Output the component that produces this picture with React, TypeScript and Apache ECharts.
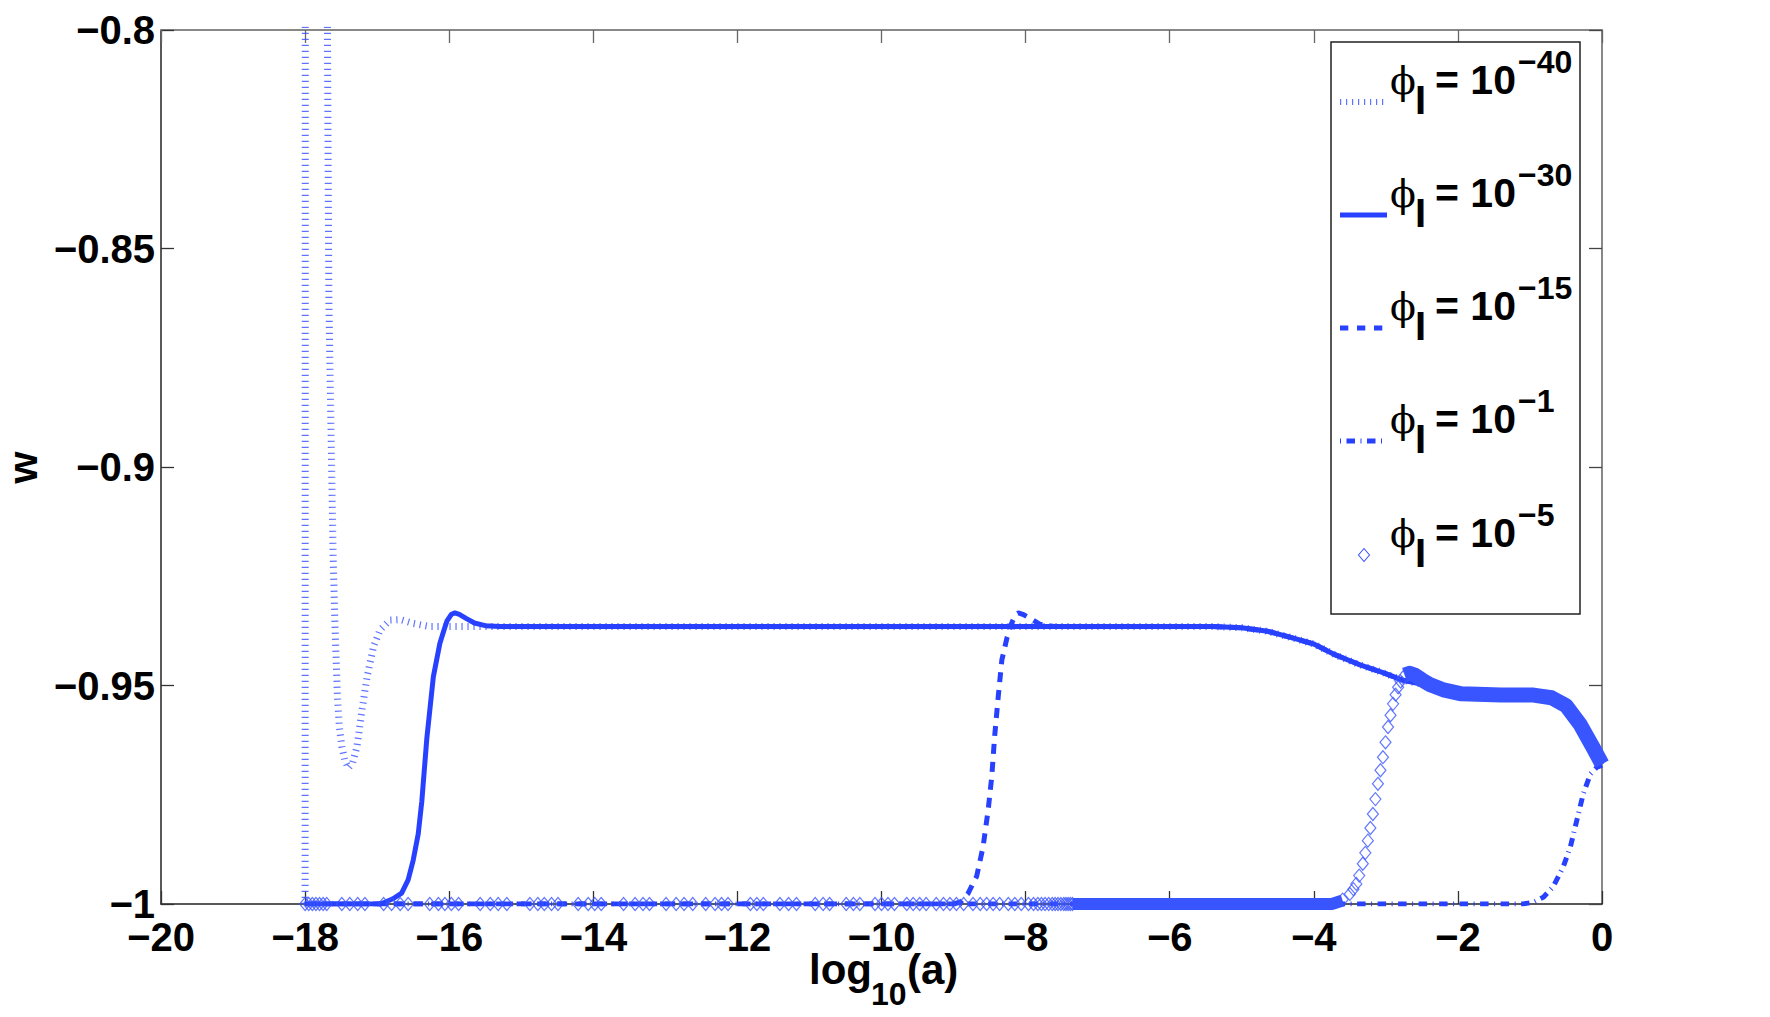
import React, { useEffect, useRef } from 'react';
import * as echarts from 'echarts';

// ---------- data ----------
// common late-time tracker shared by the curves once they have converged
const TRACK_X = [-15.3, -12, -9, -7, -5.4, -5.0, -4.64, -4.32, -4.0, -3.7, -3.37, -3.05, -2.78, -2.5, -2.2, -1.95, -1.4, -0.95, -0.7, -0.5, -0.3, -0.12, 0];
const TRACK_W = [-0.9365, -0.9365, -0.9365, -0.9365, -0.9365, -0.9368, -0.9376, -0.939, -0.9405, -0.943, -0.9452, -0.947, -0.9487, -0.9497, -0.951, -0.9519, -0.9522, -0.9522, -0.9528, -0.9546, -0.959, -0.9643, -0.968];

// phi_I = 1e-40 (dotted)
const DOTTED_X = [-18, -17.995, -17.7, -17.69, -17.67, -17.61, -17.585, -17.553, -17.525, -17.49, -17.45, -17.4, -17.34, -17.28, -17.21, -17.14, -17.05, -16.96, -16.82, -16.68, -16.5, -16.27];
const DOTTED_W = [-1, -0.6, -0.6, -0.8, -0.862, -0.921, -0.9365, -0.9518, -0.9594, -0.964, -0.967, -0.9689, -0.9677, -0.964, -0.9556, -0.948, -0.9411, -0.9373, -0.935, -0.9349, -0.9358, -0.9365];

// phi_I = 1e-30 (solid)
const SOLID_X = [-18, -16.95, -16.78, -16.66, -16.57, -16.5, -16.43, -16.38, -16.31, -16.22, -16.13, -16.07, -16.03, -15.97, -15.92, -15.86, -15.76, -15.65, -15.5];
const SOLID_W = [-1, -1, -0.9988, -0.9975, -0.9945, -0.99, -0.984, -0.9765, -0.962, -0.948, -0.9404, -0.9372, -0.9352, -0.9337, -0.9334, -0.9337, -0.9347, -0.9357, -0.9363];

// phi_I = 1e-15 (dashed)
const DASHED_X = [-18, -9.0, -8.9, -8.8, -8.68, -8.59, -8.52, -8.47, -8.43, -8.38, -8.33, -8.26, -8.19, -8.14, -8.1, -8.04, -7.94, -7.8, -7.6];
const DASHED_W = [-1, -1, -0.9995, -0.9976, -0.9937, -0.9869, -0.9785, -0.9709, -0.9617, -0.9526, -0.9442, -0.9392, -0.9356, -0.9338, -0.9334, -0.9337, -0.9346, -0.936, -0.9365];

// phi_I = 1e-1 (dash-dot)
const DASHDOT_X = [-18, -1.1, -0.95, -0.81, -0.68, -0.54, -0.44, -0.35, -0.26, -0.16, -0.07, 0];
const DASHDOT_W = [-1, -1, -0.9996, -0.9984, -0.9961, -0.9916, -0.987, -0.9809, -0.9748, -0.9702, -0.9687, -0.9683];

// phi_I = 1e-5 (diamonds): sparse markers on w = -1
const DIAMOND_FLAT_X = [
  -18.0, -17.95, -17.9, -17.85, -17.8, -17.75, -17.7,
  -17.49, -17.38, -17.27, -17.17,
  -16.91, -16.8, -16.68, -16.57,
  -16.27, -16.15, -16.06, -15.97, -15.87,
  -15.57, -15.43, -15.32, -15.2,
  -14.88, -14.77, -14.68, -14.58, -14.49,
  -14.21, -14.07, -13.98, -13.89,
  -13.58, -13.42, -13.31, -13.22,
  -12.99, -12.85, -12.74, -12.62, -12.44, -12.31, -12.22, -12.13,
  -11.82, -11.73, -11.64,
  -11.41, -11.29, -11.18,
  -10.92, -10.81, -10.72,
  -10.49, -10.39, -10.3,
  -10.09, -10.0, -9.91, -9.82,
  -9.65, -9.56, -9.47, -9.38,
  -9.24, -9.14, -9.05, -8.96, -8.86,
  -8.73, -8.63, -8.54, -8.45, -8.36,
  -8.24, -8.15, -8.06,
  -7.96, -7.89, -7.83, -7.78, -7.73, -7.68, -7.63, -7.59, -7.55, -7.51, -7.47, -7.44, -7.41, -7.38, -7.35,
];
const DIAMOND_FLAT_W = -1;
// diamonds along the rise
const DIAMOND_RISE_X = [-3.6, -3.5, -3.45, -3.41, -3.37, -3.32, -3.285, -3.25, -3.215, -3.18, -3.145, -3.11, -3.075, -3.04, -3.005, -2.97, -2.935, -2.9, -2.865, -2.83, -2.795, -2.76];
const DIAMOND_RISE_W = [-0.999, -0.9977, -0.9966, -0.9954, -0.9935, -0.9908, -0.9883, -0.9855, -0.9826, -0.9794, -0.976, -0.9725, -0.9694, -0.9664, -0.963, -0.9595, -0.9568, -0.9542, -0.9521, -0.9504, -0.9491, -0.9481];
// where the diamonds overlap into a solid band
const BAND_LOW_X = [-7.35, -3.75, -3.6];
const BAND_LOW_W = [-1, -1, -0.9992];
const BAND_HIGH_X = [-2.74, -2.67, -2.6, -2.5, -2.4, -2.2, -1.95, -1.4, -0.95, -0.7, -0.5, -0.3, -0.12, 0];
const BAND_HIGH_W = [-0.9476, -0.9472, -0.9476, -0.9487, -0.9497, -0.951, -0.9519, -0.9522, -0.9522, -0.9528, -0.9546, -0.959, -0.9643, -0.968];

const X_TICKS = { min: -20, max: 0, interval: 2 };
const Y_TICKS = { min: -1, max: -0.8, interval: 0.05 };

const LEGEND_EXPONENTS = ['\u221240', '\u221230', '\u221215', '\u22121', '\u22125'];

// ---------- helpers ----------
const zip = (xs: number[], ws: number[]) => xs.map((x, i) => [x, ws[i]]);
const withTail = (xs: number[], ws: number[]) => {
  const head = zip(xs, ws);
  const last = xs[xs.length - 1];
  return head.concat(zip(TRACK_X, TRACK_W).filter((p) => p[0] > last));
};
const fmt = (v: number) => String(Math.round(v * 100) / 100).replace('-', '\u2212');

const FONT = "'Liberation Sans', Arial, Helvetica, sans-serif";
const BLUE = '#2741ff';
const DOT_BLUE = 'rgba(55,80,255,0.8)';
const DIAMOND_BLUE = '#3b55ff';
const BAND_BLUE = '#3855ff';

const DOT_DASH = [1.2, 4.8];
const DASH_DASH = [10, 8];
const DASHDOT_DASH = [1, 5.5, 8.5, 5.5];

const C = 0.3465; // central-baseline offset (em)

function legendGraphic() {
  const els: any[] = [];
  els.push({
    type: 'rect', z: 100,
    shape: { x: 1331, y: 42, width: 249, height: 572 },
    style: { fill: '#fff', stroke: '#222', lineWidth: 1.5 },
  });
  const baselines = [94, 207, 320, 433, 547];
  const icons: any[] = [
    { stroke: DOT_BLUE, lineWidth: 6, lineDash: DOT_DASH, x2: 1386 },
    { stroke: BLUE, lineWidth: 5, lineDash: null, x2: 1387 },
    { stroke: BLUE, lineWidth: 5, lineDash: [8.3, 8.7], x2: 1383 },
    { stroke: BLUE, lineWidth: 5, lineDash: DASHDOT_DASH, x2: 1382 },
    null,
  ];
  baselines.forEach((B, i) => {
    const iy = B + 8;
    const ic = icons[i];
    if (ic) {
      els.push({
        type: 'line', z: 101,
        shape: { x1: 1340, y1: iy, x2: ic.x2, y2: iy },
        style: { stroke: ic.stroke, lineWidth: ic.lineWidth, lineDash: ic.lineDash, lineCap: 'butt' },
      });
    } else {
      els.push({
        type: 'polygon', z: 101,
        shape: { points: [[1364, iy - 6.5], [1369.5, iy], [1364, iy + 6.5], [1358.5, iy]] },
        style: { fill: 'none', stroke: DIAMOND_BLUE, lineWidth: 1.1 },
      });
    }
    els.push({
      type: 'text', z: 101, x: 1390, y: B - C * 38,
      style: { text: '\u03D5', fontSize: 38, fontFamily: "'DejaVu Serif', 'Liberation Serif', serif", fill: '#000', align: 'left', verticalAlign: 'middle' },
    });
    els.push({
      type: 'text', z: 101, x: 1415, y: B + 20 - C * 40,
      style: { text: 'I', fontSize: 40, fontWeight: 'bold', fontFamily: FONT, fill: '#000', align: 'left', verticalAlign: 'middle' },
    });
    els.push({
      type: 'text', z: 101, x: 1435, y: B - C * 41,
      style: { text: '= 10', fontSize: 41, fontWeight: 'bold', fontFamily: FONT, fill: '#000', align: 'left', verticalAlign: 'middle' },
    });
    els.push({
      type: 'text', z: 101, x: 1518, y: B - 21 - C * 32,
      style: { text: LEGEND_EXPONENTS[i], fontSize: 32, fontWeight: 'bold', fontFamily: FONT, fill: '#000', align: 'left', verticalAlign: 'middle' },
    });
  });
  return els;
}

function axisTitles() {
  return [
    {
      type: 'text', z: 50, x: 809, y: 984 - C * 42,
      style: { text: 'log', fontSize: 42, fontWeight: 'bold', fontFamily: FONT, fill: '#000', align: 'left', verticalAlign: 'middle' },
    },
    {
      type: 'text', z: 50, x: 871, y: 1005 - C * 32,
      style: { text: '10', fontSize: 32, fontWeight: 'bold', fontFamily: FONT, fill: '#000', align: 'left', verticalAlign: 'middle' },
    },
    {
      type: 'text', z: 50, x: 907, y: 984 - C * 42,
      style: { text: '(a)', fontSize: 42, fontWeight: 'bold', fontFamily: FONT, fill: '#000', align: 'left', verticalAlign: 'middle' },
    },
    {
      type: 'text', z: 50, x: 23, y: 467.5, rotation: Math.PI / 2,
      style: { text: 'w', fontSize: 41, fontWeight: 'bold', fontFamily: FONT, fill: '#000', align: 'center', verticalAlign: 'middle' },
    },
  ];
}

function buildOption(): any {
  const labelStyle = { fontSize: 40, fontWeight: 'bold', color: '#000', fontFamily: FONT, formatter: fmt, lineHeight: 40 };
  const mainLine = { onZero: false, lineStyle: { color: '#222', width: 1.5 } };
  const boxLine = { onZero: false, lineStyle: { color: '#888', width: 2 } };
  const tick = (color: string) => ({ inside: true, length: 13, lineStyle: { color, width: 1.3 } });
  return {
    animation: false,
    backgroundColor: '#fff',
    grid: { left: 161, right: 168, top: 30, bottom: 113, containLabel: false, outerBoundsMode: 'none' },
    xAxis: [
      { type: 'value', ...X_TICKS, position: 'bottom', axisLine: mainLine, axisTick: tick('#333'),
        axisLabel: { ...labelStyle, margin: 13 }, splitLine: { show: false } },
      { type: 'value', ...X_TICKS, position: 'top', axisLine: boxLine, axisTick: tick('#666'),
        axisLabel: { show: false }, splitLine: { show: false } },
    ],
    yAxis: [
      { type: 'value', ...Y_TICKS, position: 'left', axisLine: mainLine, axisTick: tick('#333'),
        axisLabel: { ...labelStyle, margin: 6 }, splitLine: { show: false } },
      { type: 'value', ...Y_TICKS, position: 'right', axisLine: boxLine, axisTick: tick('#444'),
        axisLabel: { show: false }, splitLine: { show: false } },
    ],
    legend: { show: false },
    tooltip: { show: false },
    series: [
      { name: '\u03D5I = 10^-40', type: 'line', data: withTail(DOTTED_X, DOTTED_W), symbol: 'none', clip: true, z: 2,
        lineStyle: { color: DOT_BLUE, width: 7, type: DOT_DASH, cap: 'butt' } },
      { name: '\u03D5I = 10^-30', type: 'line', data: withTail(SOLID_X, SOLID_W), symbol: 'none', clip: true, z: 3,
        lineStyle: { color: BLUE, width: 5, type: 'solid', join: 'round' } },
      { name: '\u03D5I = 10^-15', type: 'line', data: withTail(DASHED_X, DASHED_W), symbol: 'none', clip: true, z: 4,
        lineStyle: { color: BLUE, width: 5, type: DASH_DASH, cap: 'butt' } },
      { name: '\u03D5I = 10^-1', type: 'line', data: zip(DASHDOT_X, DASHDOT_W), symbol: 'none', clip: true, z: 5,
        lineStyle: { color: BLUE, width: 5, type: DASHDOT_DASH, cap: 'butt' } },
      { name: 'band-low', type: 'line', data: zip(BAND_LOW_X, BAND_LOW_W), symbol: 'none', clip: true, z: 6,
        lineStyle: { color: BAND_BLUE, width: 12 } },
      { name: 'band-high', type: 'line', data: zip(BAND_HIGH_X, BAND_HIGH_W), symbol: 'none', clip: true, z: 6,
        lineStyle: { color: BAND_BLUE, width: 15, join: 'round', cap: 'butt' } },
      { name: '\u03D5I = 10^-5', type: 'scatter', z: 7,
        data: DIAMOND_FLAT_X.map((x) => [x, DIAMOND_FLAT_W]).concat(zip(DIAMOND_RISE_X, DIAMOND_RISE_W)),
        symbol: 'diamond', symbolSize: [11, 13],
        itemStyle: { color: 'rgba(0,0,0,0)', borderColor: DIAMOND_BLUE, borderWidth: 1.2 } },
    ],
    graphic: { elements: [...axisTitles(), ...legendGraphic()] },
  };
}

export default function App() {
  const ref = useRef<HTMLDivElement>(null);
  useEffect(() => {
    document.body.style.margin = '0';
    const chart = echarts.init(ref.current as HTMLDivElement, null, { renderer: 'svg' });
    chart.setOption(buildOption());
    return () => chart.dispose();
  }, []);
  return <div ref={ref} style={{ width: 1770, height: 1017 }} />;
}
